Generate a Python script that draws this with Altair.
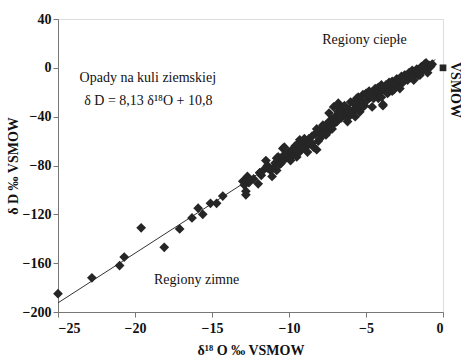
import altair as alt
import pandas as pd

# cold-region points (δ18O, δD)
cold_x = [-25.0, -22.8, -21.0, -20.7, -19.6, -18.1, -17.1, -16.3, -15.9, -15.6, -15.1, -14.7, -14.3]
cold_y = [-185, -172, -162, -155, -131, -147, -132, -123, -115, -120, -111, -111, -105]

# dense cluster (δ18O, δD)
clu_x = [-12.9, -12.9, -12.8, -12.8, -12.7, -12.6, -12.3, -12.0, -11.9, -11.8, -11.6, -11.5, -11.4, -11.2,
         -11.1, -11.0, -10.9, -10.8, -10.7, -10.6, -10.5, -10.4, -10.3, -10.2, -10.1, -10.0, -9.9, -9.8,
         -9.7, -9.6, -9.5, -9.5, -9.4, -9.3, -9.2, -9.1, -9.0, -8.9, -8.8, -8.7, -8.6, -8.5, -8.4, -8.3,
         -8.2, -8.1, -8.0, -7.9, -7.8, -7.7, -7.6, -7.5, -7.4, -7.4, -7.3, -7.2, -7.1, -7.0, -6.9, -6.8,
         -6.8, -6.7, -6.6, -6.5, -6.4, -6.3, -6.2, -6.1, -6.0, -5.9, -5.8, -5.7, -5.6, -5.5, -5.4, -5.3,
         -5.2, -5.1, -5.0, -4.9, -4.8, -4.7, -4.6, -4.5, -4.4, -4.3, -4.2, -4.1, -4.0, -3.9, -3.8, -3.7,
         -3.6, -3.5, -3.4, -3.3, -3.2, -3.1, -3.0, -2.9, -2.8, -2.7, -2.6, -2.5, -2.4, -2.3, -2.2, -2.1,
         -2.0, -1.9, -1.8, -1.7, -1.6, -1.5, -1.4, -1.3, -1.2, -1.1, -1.0, -0.9, -0.8, -0.7,
         -13.0, -12.7, -11.9, -11.4, -10.8, -10.5, -10.3, -10.3, -9.4, -8.9, -8.7, -8.0, -7.1, -6.4,
         -6.2, -5.7, -4.8, -4.2, -4.0, -7.9, -6.9, -5.7, -1.3, -1.5, -2.4, -2.8, -3.6, -4.0, -4.5,
         -4.2, -3.9, -9.0, -8.5, -8.2, -7.8, -7.6, -7.2, -6.6, -6.0, -5.5, -5.2, -3.3, -2.6, -2.0, -1.0]
clu_y = [-92, -96, -101, -104, -89, -94, -91, -95, -86, -88, -83, -76, -80, -84,
         -89, -82, -78, -74, -73, -79, -76, -66, -71, -74, -73, -69, -76, -67,
         -71, -64, -73, -68, -62, -59, -67, -63, -66, -60, -69, -58, -62, -56, -65, -54,
         -67, -60, -58, -52, -55, -50, -47, -53, -37, -44, -49, -42, -46, -40, -44, -29,
         -36, -33, -41, -37, -31, -39, -44, -34, -28, -37, -29, -33, -25, -30, -36, -27,
         -22, -31, -21, -26, -19, -24, -32, -22, -17, -18, -25, -20, -14, -30, -17, -14,
         -21, -12, -16, -11, -18, -13, -9, -15, -10, -7, -12, -6, -7, -10, -4, -8,
         -2, -10, -5, -1, -6, -3, 1, -2, 3, 4, 0, 2, 1, 3,
         -93, -92, -86, -82, -84, -78, -65, -72, -70, -65, -61, -54, -32, -32,
         -41, -28, -22, -18, -24, -50, -44, -40, 0, -6, -6, -17, -20, -17, -25,
         -16, -31, -58, -62, -50, -47, -55, -50, -35, -38, -24, -32, -19, -9, -8, -4]

# VSMOW reference point
ref_x = [0.0]
ref_y = [0.0]

# regression line δD = 8.13 δ18O + 10.8 (end points)
line_x = [-25.0, -0.5]
line_y = [-192.5, 6.7]

# annotations
ann_text = ["Regiony ciepłe", "Regiony zimne"]
ann_x = [-5.1, -16.0]
ann_y = [22.8, -174.0]

left_text = ["Opady na kuli ziemskiej", "δ D = 8,13 δ¹⁸O + 10,8"]
left_x = [-23.6, -23.3]
left_y = [-8.4, -27.2]

pts = pd.DataFrame({"x": cold_x + clu_x, "y": cold_y + clu_y})
ref = pd.DataFrame({"x": ref_x, "y": ref_y})
ln = pd.DataFrame({"x": line_x, "y": line_y})
ann = pd.DataFrame({"t": ann_text, "x": ann_x, "y": ann_y})
lft = pd.DataFrame({"t": left_text, "x": left_x, "y": left_y})

FONT = "Liberation Serif"
xs = alt.Scale(domain=[-25, 0], nice=False, zero=False)
ys = alt.Scale(domain=[-200, 40], nice=False, zero=False)

xax = alt.Axis(values=[-25, -20, -15, -10, -5, 0], title="δ¹⁸ O ‰ VSMOW", grid=False,
               domainColor="#777777", tickColor="#777777", tickSize=5,
               labelFont=FONT, labelFontSize=14, labelFontWeight="bold", labelColor="#111111",
               titleFont=FONT, titleFontSize=14, titleFontWeight="bold", titleColor="#111111",
               titlePadding=8, labelPadding=4)
yax = alt.Axis(values=[-200, -160, -120, -80, -40, 0, 40], title="δ D ‰ VSMOW", grid=False,
               domainColor="#777777", tickColor="#777777", tickSize=5,
               labelFont=FONT, labelFontSize=14, labelFontWeight="bold", labelColor="#111111",
               titleFont=FONT, titleFontSize=14, titleFontWeight="bold", titleColor="#111111",
               titlePadding=2, labelPadding=2)

line = alt.Chart(ln).mark_line(color="#333333", strokeWidth=1).encode(
    x=alt.X("x:Q", scale=xs, axis=xax), y=alt.Y("y:Q", scale=ys, axis=yax))

points = alt.Chart(pts).mark_point(shape="diamond", filled=True, size=95, color="#262626", opacity=1).encode(
    x=alt.X("x:Q", scale=xs), y=alt.Y("y:Q", scale=ys))

refpt = alt.Chart(ref).mark_point(shape="square", filled=True, size=45, color="#262626", opacity=1).encode(
    x=alt.X("x:Q", scale=xs), y=alt.Y("y:Q", scale=ys))

anno = alt.Chart(ann).mark_text(font=FONT, fontSize=14, color="#111111", align="center", baseline="middle").encode(
    x=alt.X("x:Q", scale=xs), y=alt.Y("y:Q", scale=ys), text="t:N")

leftanno = alt.Chart(lft).mark_text(font=FONT, fontSize=14, color="#111111", align="left", baseline="middle").encode(
    x=alt.X("x:Q", scale=xs), y=alt.Y("y:Q", scale=ys), text="t:N")

side = alt.Chart(pd.DataFrame({"t": ["VSMOW"]})).mark_text(
    font=FONT, fontSize=14, fontWeight="bold", color="#111111", angle=90, align="center", baseline="middle"
).encode(x=alt.value(455 - 58), y=alt.value(90 - 19), text="t:N")

chart = alt.layer(line, points, refpt, anno, leftanno, side).properties(
    width=385, height=293,
    autosize=alt.AutoSizeParams(type="none"),
    padding={"left": 58, "top": 19, "right": 18, "bottom": 48},
).configure_view(stroke="#777777", strokeWidth=1).configure(background="white")

chart.save("out.html", embed_options={"renderer": "svg", "actions": False})
